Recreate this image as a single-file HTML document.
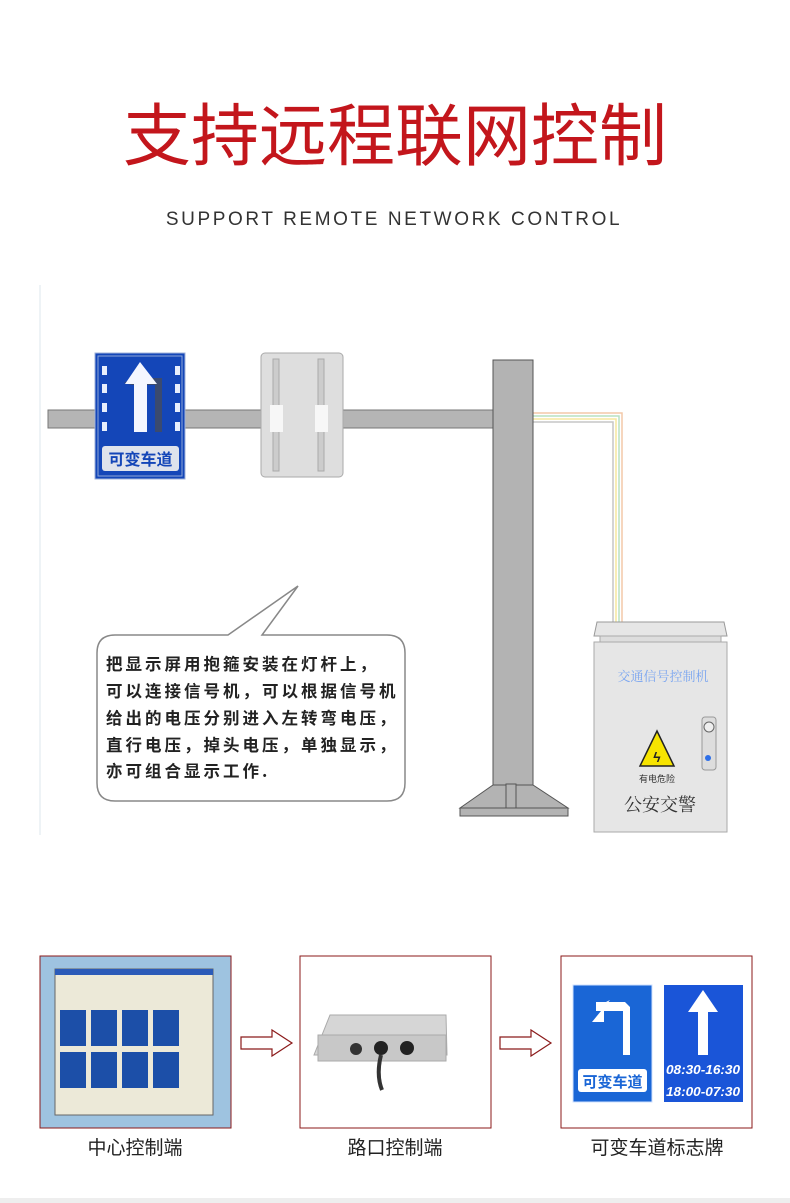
<!DOCTYPE html>
<html><head><meta charset="utf-8"><style>
html,body{margin:0;padding:0;background:#fff;}
body{width:790px;height:1203px;overflow:hidden;position:relative;font-family:"Liberation Sans","Noto Sans CJK SC",sans-serif;}
</style></head><body>
<svg width="790" height="1203" viewBox="0 0 790 1203" xmlns="http://www.w3.org/2000/svg" style="position:absolute;left:0;top:0">
<text x="395" y="160" text-anchor="middle" font-family="'Noto Sans CJK SC',sans-serif" font-size="68" font-weight="400" fill="#c3161c">支持远程联网控制</text>
<text x="394" y="225" text-anchor="middle" font-family="'Liberation Sans',sans-serif" font-size="19" letter-spacing="2.6" fill="#333">SUPPORT  REMOTE  NETWORK  CONTROL</text>
<line x1="40" y1="285" x2="40" y2="835" stroke="#eef3f6" stroke-width="2"/>
<g fill="none" stroke-width="1.5">
<polyline points="532,413 622,413 622,623" stroke="#f4c9a8"/>
<polyline points="532,416 619,416 619,623" stroke="#b9e0c1"/>
<polyline points="532,419 616,419 616,623" stroke="#f5e79e"/>
<polyline points="532,422 613,422 613,623" stroke="#c6c6c6"/>
</g>
<rect x="48" y="410" width="446" height="18" fill="#b5b5b5" stroke="#777" stroke-width="1"/>
<rect x="493" y="360" width="40" height="455" fill="#b3b3b3" stroke="#555" stroke-width="1"/>
<polygon points="460,808 493,785 533,785 568,808" fill="#b3b3b3" stroke="#555"/>
<rect x="460" y="808" width="108" height="8" fill="#b3b3b3" stroke="#555"/>
<rect x="506" y="784" width="10" height="24" fill="#b3b3b3" stroke="#555"/>
<rect x="95" y="353" width="90" height="126" fill="#1446b8" stroke="#9fb2d9"/>
<rect x="98" y="356" width="84" height="120" fill="none" stroke="#8ea6d8" stroke-width="1"/>
<g fill="#e8eefc">
<rect x="102" y="366" width="5" height="9"/><rect x="102" y="384" width="5" height="9"/><rect x="102" y="403" width="5" height="9"/><rect x="102" y="422" width="5" height="9"/>
<rect x="175" y="366" width="5" height="9"/><rect x="175" y="384" width="5" height="9"/><rect x="175" y="403" width="5" height="9"/><rect x="175" y="422" width="5" height="9"/>
</g>
<path d="M124,383 L132,378 L162,378 L162,432 L155,432 L155,385 L132,385 Z" fill="#3a4a70"/>
<path d="M140,362 L157,384 L147,384 L147,432 L134,432 L134,384 L125,384 Z" fill="#f4f6ff"/>
<rect x="102" y="446" width="77" height="25" rx="3" fill="#dfe3ec"/>
<text x="140.5" y="465" text-anchor="middle" font-family="'Noto Sans CJK SC',sans-serif" font-size="16" font-weight="700" fill="#1446b8">可变车道</text>
<rect x="261" y="353" width="82" height="124" rx="4" fill="#dedede" stroke="#aaa"/>
<rect x="273" y="359" width="6" height="112" fill="#ccc" stroke="#aaa"/>
<rect x="318" y="359" width="6" height="112" fill="#ccc" stroke="#aaa"/>
<rect x="270" y="405" width="13" height="27" fill="#f7f7f7"/>
<rect x="315" y="405" width="13" height="27" fill="#f7f7f7"/>
<polygon points="597,622 724,622 727,636 594,636" fill="#e6e6e6" stroke="#999"/>
<rect x="600" y="636" width="121" height="6" fill="#ddd" stroke="#aaa"/>
<rect x="594" y="642" width="133" height="190" fill="#e6e6e6" stroke="#aaa"/>
<text x="663" y="681" text-anchor="middle" font-family="'Noto Serif CJK SC',serif" font-size="13" fill="#7aa5f0">交通信号控制机</text>
<rect x="702" y="717" width="14" height="53" rx="3" fill="#ddd" stroke="#999"/>
<circle cx="709" cy="727" r="5" fill="#eee" stroke="#666"/>
<circle cx="708" cy="758" r="3" fill="#2d6fe8"/>
<polygon points="657,731 674,766 640,766" fill="#f7e400" stroke="#222" stroke-width="1.5"/>
<text x="657" y="762" text-anchor="middle" font-size="14" font-weight="bold" fill="#222">ϟ</text>
<text x="657" y="782" text-anchor="middle" font-family="'Noto Sans CJK SC',sans-serif" font-size="9" fill="#333">有电危险</text>
<text x="660" y="811" text-anchor="middle" font-family="'Noto Serif CJK SC',serif" font-size="18" fill="#333">公安交警</text>
<path d="M115,635 L228,635 L298,586 L262,635 L387,635 Q405,635 405,653 L405,783 Q405,801 387,801 L115,801 Q97,801 97,783 L97,653 Q97,635 115,635 Z" fill="#fff" stroke="#888" stroke-width="1.5"/>
<g font-family="'Noto Sans CJK SC',sans-serif" font-size="16.5" font-weight="700" fill="#222" letter-spacing="3">
<text x="106" y="670">把显示屏用抱箍安装在灯杆上，</text>
<text x="106" y="697">可以连接信号机，可以根据信号机</text>
<text x="106" y="724">给出的电压分别进入左转弯电压，</text>
<text x="106" y="751">直行电压，掉头电压，单独显示，</text>
<text x="106" y="777">亦可组合显示工作.</text>
</g>
<rect x="40" y="956" width="191" height="172" fill="#9ec3e0" stroke="#8b1a1a"/>
<rect x="55" y="969" width="158" height="146" fill="#ece9d8" stroke="#666"/>
<rect x="55" y="969" width="158" height="6" fill="#2b5bb8"/>
<g fill="#1c4fa8">
<rect x="60" y="1010" width="26" height="36"/><rect x="91" y="1010" width="26" height="36"/><rect x="122" y="1010" width="26" height="36"/><rect x="153" y="1010" width="26" height="36"/>
<rect x="60" y="1052" width="26" height="36"/><rect x="91" y="1052" width="26" height="36"/><rect x="122" y="1052" width="26" height="36"/><rect x="153" y="1052" width="26" height="36"/>
</g>
<rect x="300" y="956" width="191" height="172" fill="#fff" stroke="#8b1a1a"/>
<polygon points="330,1015 446,1015 447,1055 314,1055" fill="#d6d6d6" stroke="#aaa"/>
<rect x="318" y="1035" width="128" height="26" fill="#c8c8c8" stroke="#aaa"/>
<circle cx="356" cy="1049" r="6" fill="#333"/><circle cx="381" cy="1048" r="7" fill="#222"/><circle cx="407" cy="1048" r="7" fill="#222"/>
<path d="M381,1055 Q376,1075 382,1090" stroke="#333" stroke-width="4" fill="none"/>
<rect x="561" y="956" width="191" height="172" fill="#fff" stroke="#8b1a1a"/>
<rect x="573" y="985" width="79" height="117" fill="#1a66d6" stroke="#cfe0ff"/>
<path d="M610,1000 L592,1022 L604,1022 L604,1003 Z" fill="#fff"/>
<path d="M614,1002 L625,1002 L630,1007 L630,1055 L623,1055 L623,1011 L596,1011 L596,1002 Z" fill="#fff"/>
<rect x="578" y="1069" width="69" height="23" rx="3" fill="#fff"/>
<text x="612.5" y="1087" text-anchor="middle" font-family="'Noto Sans CJK SC',sans-serif" font-size="15" font-weight="700" fill="#1a66d6">可变车道</text>
<rect x="664" y="985" width="79" height="117" fill="#1a55d8"/>
<path d="M703,990 L718,1012 L708,1012 L708,1055 L698,1055 L698,1012 L688,1012 Z" fill="#fff"/>
<text x="703" y="1074" text-anchor="middle" font-size="13" font-weight="700" font-style="italic" fill="#fff" textLength="74" lengthAdjust="spacingAndGlyphs">08:30-16:30</text>
<text x="703" y="1096" text-anchor="middle" font-size="13" font-weight="700" font-style="italic" fill="#fff" textLength="74" lengthAdjust="spacingAndGlyphs">18:00-07:30</text>
<g fill="#fff" stroke="#8b1a1a" stroke-width="1.2">
<polygon points="241,1037 272,1037 272,1030 292,1043 272,1056 272,1049 241,1049"/>
<polygon points="500,1037 531,1037 531,1030 551,1043 531,1056 531,1049 500,1049"/>
</g>
<g font-family="'Noto Sans CJK SC',sans-serif" font-size="19" fill="#222" text-anchor="middle">
<text x="135" y="1154">中心控制端</text>
<text x="395" y="1154">路口控制端</text>
<text x="657" y="1154">可变车道标志牌</text>
</g>
<rect x="0" y="1198" width="790" height="5" fill="#eee"/>
</svg>
</body></html>
